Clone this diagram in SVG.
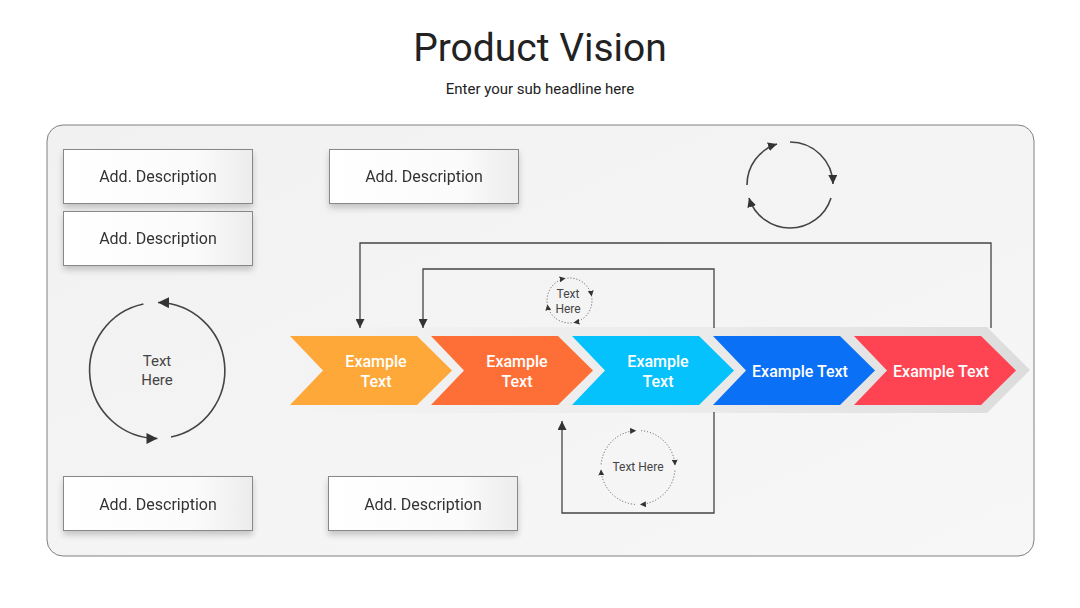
<svg xmlns="http://www.w3.org/2000/svg" width="1080" height="608" viewBox="0 0 1080 608">
<defs>
<style>
.t{font-family:Roboto,"Liberation Sans",sans-serif}
.desc{font-size:16px;fill:#333;text-anchor:middle}
.box{fill:url(#boxg);stroke:#888;stroke-width:1}
.cw{font-size:16px;fill:#fff;font-weight:500;text-anchor:middle}
.ln{fill:none;stroke:#444;stroke-width:1.3}
.arc{fill:none;stroke:#444;stroke-width:1.6}
.dot{fill:none;stroke:#555;stroke-width:1;stroke-dasharray:1 2}
.sm{font-size:12px;fill:#444;text-anchor:middle}
</style>
<linearGradient id="panelg" x1="0" y1="0" x2="1" y2="1">
<stop offset="0" stop-color="#f1f1f1"/><stop offset="1" stop-color="#f7f7f7"/>
</linearGradient>
<linearGradient id="boxg" x1="0" y1="0" x2="1" y2="0">
<stop offset="0" stop-color="#ffffff"/><stop offset="0.7" stop-color="#fbfbfb"/><stop offset="1" stop-color="#ececec"/>
</linearGradient>
<linearGradient id="bandg" x1="0" y1="0" x2="1" y2="0">
<stop offset="0" stop-color="#e4e4e4" stop-opacity="0"/><stop offset="0.5" stop-color="#e6e6e6" stop-opacity="0.6"/><stop offset="1" stop-color="#dcdcdc"/>
</linearGradient>
<filter id="sh" x="-10%" y="-10%" width="120%" height="140%">
<feGaussianBlur in="SourceAlpha" stdDeviation="3"/>
<feOffset dy="4"/>
<feComponentTransfer><feFuncA type="linear" slope="0.2"/></feComponentTransfer>
<feMerge><feMergeNode/><feMergeNode in="SourceGraphic"/></feMerge>
</filter>
<marker id="ah" viewBox="0 0 10 10" refX="10" refY="5" markerWidth="9" markerHeight="9" markerUnits="userSpaceOnUse" orient="auto">
<path d="M0,0 L10,5 L0,10 z" fill="#333"/>
</marker>
<marker id="ah2" viewBox="0 0 10 10" refX="10" refY="5" markerWidth="11" markerHeight="11" markerUnits="userSpaceOnUse" orient="auto">
<path d="M0,0 L10,5 L0,10 z" fill="#333"/>
</marker>
<marker id="ahs" viewBox="0 0 10 10" refX="10" refY="5" markerWidth="6" markerHeight="6" markerUnits="userSpaceOnUse" orient="auto">
<path d="M0,0 L10,5 L0,10 z" fill="#333"/>
</marker>
</defs>
<rect width="1080" height="608" fill="#ffffff"/>
<g id="title">
<text class="t" x="540" y="61" font-size="39" fill="#222" text-anchor="middle">Product Vision</text>
<text class="t" x="540" y="94" font-size="15" fill="#222" text-anchor="middle">Enter your sub headline here</text>
</g>
<g id="panel">
<rect x="47" y="125" width="987" height="431" rx="16" fill="url(#panelg)" stroke="#808080" stroke-width="1"/>
</g>
<g id="band">
<polygon points="290,327 987,327 1030,370 987,413 290,413" fill="url(#bandg)"/>
</g>
<g id="connectors">
<path class="ln" d="M991,328 V243 H360 V328" marker-end="url(#ah)"/>
<path class="ln" d="M714,328 V269 H423 V328" marker-end="url(#ah)"/>
<path class="ln" d="M714,412 V513 H562 V421" marker-end="url(#ah)"/>
</g>
<g id="chevron1">
<polygon points="290,336 417,336 452,370.5 417,405 290,405 323,370.5" fill="#FDA838"/>
<text class="t cw" x="376" y="367">Example</text>
<text class="t cw" x="376" y="387">Text</text>
</g>
<g id="chevron2">
<polygon points="431,336 558,336 593,370.5 558,405 431,405 464,370.5" fill="#FE6F37"/>
<text class="t cw" x="517" y="367">Example</text>
<text class="t cw" x="517" y="387">Text</text>
</g>
<g id="chevron3">
<polygon points="572,336 699,336 734,370.5 699,405 572,405 605,370.5" fill="#06C2FC"/>
<text class="t cw" x="658" y="367">Example</text>
<text class="t cw" x="658" y="387">Text</text>
</g>
<g id="chevron4">
<polygon points="713,336 840,336 875,370.5 840,405 713,405 746,370.5" fill="#0A70F6"/>
<text class="t cw" x="800" y="377">Example Text</text>
</g>
<g id="chevron5">
<polygon points="854,336 981,336 1016,370.5 981,405 854,405 887,370.5" fill="#FE4352"/>
<text class="t cw" x="941" y="377">Example Text</text>
</g>
<g id="desc1" filter="url(#sh)">
<rect class="box" x="63.5" y="149.5" width="189" height="54"/>
<text class="t desc" x="158" y="182">Add. Description</text>
</g>
<g id="desc2" filter="url(#sh)">
<rect class="box" x="63.5" y="211.5" width="189" height="54"/>
<text class="t desc" x="158" y="244">Add. Description</text>
</g>
<g id="desc3" filter="url(#sh)">
<rect class="box" x="329.5" y="149.5" width="189" height="54"/>
<text class="t desc" x="424" y="182">Add. Description</text>
</g>
<g id="desc4" filter="url(#sh)">
<rect class="box" x="63.5" y="476.5" width="189" height="54"/>
<text class="t desc" x="158" y="510">Add. Description</text>
</g>
<g id="desc5" filter="url(#sh)">
<rect class="box" x="328.5" y="476.5" width="189" height="54"/>
<text class="t desc" x="423" y="510">Add. Description</text>
</g>
<g id="cycle-top-right">
<path class="arc" d="M747,185 A43,43 0 0 1 777,144" marker-end="url(#ah)"/>
<path class="arc" d="M790,142 A43,43 0 0 1 833,184" marker-end="url(#ah)"/>
<path class="arc" d="M831,198 A43,43 0 0 1 749,198" marker-end="url(#ah)"/>
</g>
<g id="cycle-left">
<path class="arc" d="M143.4,304 A68,68 0 0 0 157.5,438.5" marker-end="url(#ah2)"/>
<path class="arc" d="M171,437 A68,68 0 0 0 158,302.5" marker-end="url(#ah2)"/>
<text class="t" x="157" y="366" font-size="15" fill="#444" text-anchor="middle">Text</text>
<text class="t" x="157" y="385" font-size="15" fill="#444" text-anchor="middle">Here</text>
</g>
<g id="cycle-small-top">
<path class="dot" d="M547.1,302.5 A22.5,22.5 0 0 1 565.6,278.3" marker-end="url(#ahs)"/>
<path class="dot" d="M567.5,278.1 A22.5,22.5 0 0 1 591.7,296.6" marker-end="url(#ahs)"/>
<path class="dot" d="M591.9,298.5 A22.5,22.5 0 0 1 573.4,322.7" marker-end="url(#ahs)"/>
<path class="dot" d="M571.5,322.9 A22.5,22.5 0 0 1 547.3,304.4" marker-end="url(#ahs)"/>
<text class="t sm" x="568" y="298">Text</text>
<text class="t sm" x="568" y="313">Here</text>
</g>
<g id="cycle-small-bottom">
<path class="dot" d="M601.1,464.3 A37,37 0 0 1 636.1,430.6" marker-end="url(#ahs)"/>
<path class="dot" d="M641.2,430.6 A37,37 0 0 1 675,465.6" marker-end="url(#ahs)"/>
<path class="dot" d="M674.9,470.7 A37,37 0 0 1 639.9,504.5" marker-end="url(#ahs)"/>
<path class="dot" d="M634.8,504.4 A37,37 0 0 1 601,469.4" marker-end="url(#ahs)"/>
<text class="t sm" x="638" y="471">Text Here</text>
</g>
</svg>
